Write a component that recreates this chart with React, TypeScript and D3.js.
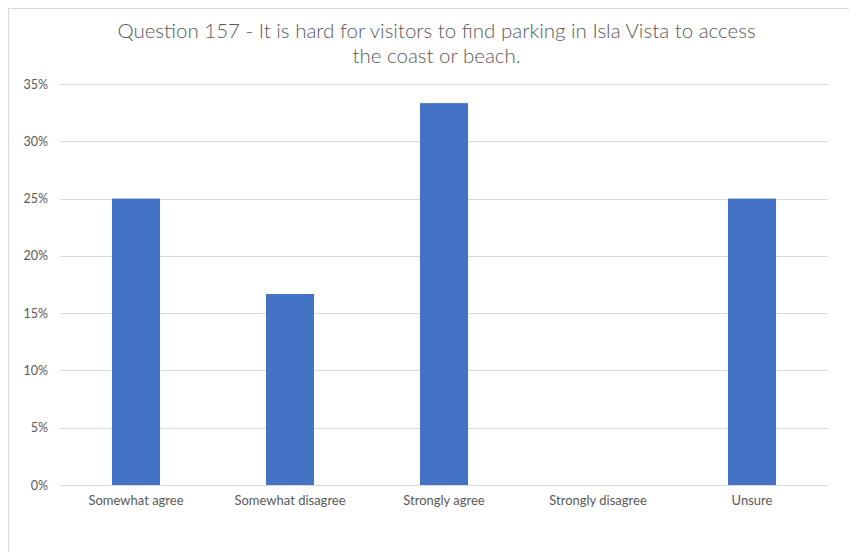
import * as d3 from 'd3';
import * as React from 'react';

const categories = ['Somewhat agree', 'Somewhat disagree', 'Strongly agree', 'Strongly disagree', 'Unsure'];
const values = [0.25, 0.1667, 0.3333, 0, 0.25];
const yTicks = [0, 0.05, 0.1, 0.15, 0.2, 0.25, 0.3, 0.35];
const titleLines = [
  'Question 157 - It is hard for visitors to find parking in Isla Vista to access',
  'the coast or beach.',
];

const width = 849;
const height = 552;
const left = 59;
const right = 829;
const top = 84;
const bottom = 485;
const font = 'Lato, "Open Sans", sans-serif';
const textColor = '#595959';

const App: React.FC = () => {
  const x = d3.scaleBand<string>().domain(categories).range([left, right]).paddingInner(0.688).paddingOuter(0.344);
  const y = d3.scaleLinear().domain([0, 0.35]).range([bottom, top]);
  const fmt = d3.format('.0%');

  return (
    <svg
      width={width}
      height={height}
      style={{ position: 'absolute', left: 0, top: 0, background: '#fff' }}
      fontFamily={font}
    >
      <rect x={8.5} y={8.5} width={width} height={height} fill="none" stroke="#d9d9d9" />
      {titleLines.map((t, i) => (
        <text key={i} x={436.5} y={38 + i * 25} textAnchor="middle" fontSize={20.5} fill={textColor} fontWeight={300}>
          {t}
        </text>
      ))}
      {yTicks.map((t) => (
        <g key={t}>
          <line x1={left + 1} x2={right - 1} y1={Math.round(y(t)) + 0.5} y2={Math.round(y(t)) + 0.5} stroke="#d9d9d9" />
          <text x={48} y={y(t) + 4.5} textAnchor="end" fontSize={12.5} fill={textColor}>
            {fmt(t)}
          </text>
        </g>
      ))}
      {categories.map((c, i) => (
        <g key={c}>
          {values[i] > 0 && (
            <rect x={x(c)} y={y(values[i])} width={x.bandwidth()} height={bottom - y(values[i])} fill="#4472c4" />
          )}
          <text x={(x(c) ?? 0) + x.bandwidth() / 2} y={505} textAnchor="middle" fontSize={13} fill={textColor}>
            {c}
          </text>
        </g>
      ))}
    </svg>
  );
};

export default App;
